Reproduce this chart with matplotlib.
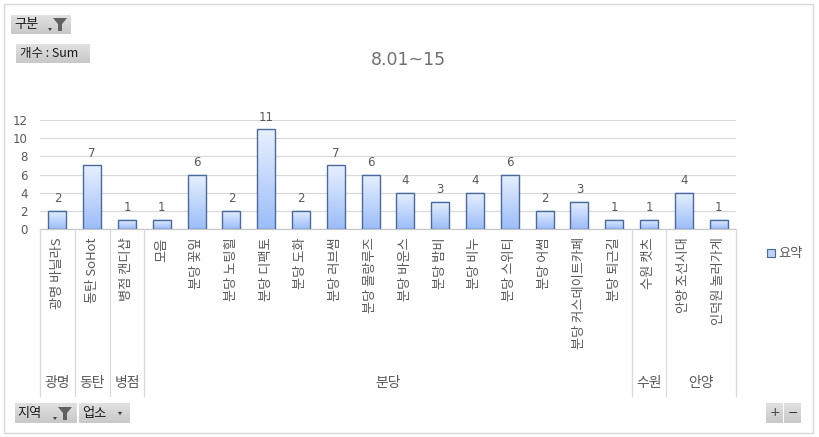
import numpy as np
import matplotlib
matplotlib.use("Agg")
import matplotlib.pyplot as plt
import matplotlib.transforms as mtransforms
from matplotlib.patches import Rectangle, Polygon, Patch
from matplotlib.lines import Line2D

plt.rcParams['font.family'] = ['Noto Sans CJK KR', 'DejaVu Sans']

# ---------------- data ----------------
title = "8.01~15"
regions = ["광명", "동탄", "병점", "분당", "수원", "안양"]
region_sizes = [1, 1, 1, 14, 1, 2]
shops = ["광명 바닐라S", "동탄 SoHot", "병점 캔디샵", "모음", "분당 꽃잎", "분당 노팅힐",
         "분당 디팩토", "분당 도화", "분당 러브썸", "분당 몰랑루즈", "분당 바운스",
         "분당 밤비", "분당 비누", "분당 스위티", "분당 어썸", "분당 커스데이트카페",
         "분당 퇴근길", "수원 캣츠", "안양 조선시대", "인덕원 놀러가게"]
counts = [2, 7, 1, 1, 6, 2, 11, 2, 7, 6, 4, 3, 4, 6, 2, 3, 1, 1, 4, 1]
y_ticks = [0, 2, 4, 6, 8, 10, 12]
series_name = "요약"

# ---------------- layout helpers ----------------
W, H = 820, 437
def fx(px): return px / W
def fy(py): return 1 - py / H

fig = plt.figure(figsize=(W / 100, H / 100), dpi=100)
fig.patch.set_facecolor("white")

ax_l, ax_r, ax_t, ax_b = 40, 736, 120, 229
ax = fig.add_axes([fx(ax_l), fy(ax_b), fx(ax_r) - fx(ax_l), fy(ax_t) - fy(ax_b)])
ax.set_facecolor("none")

TXT = "#595959"
GRID = "#d9d9d9"

x = np.arange(len(shops))
bars = ax.bar(x, counts, width=0.52, facecolor="none", edgecolor="#4a6a9c",
              linewidth=1.0, zorder=4)

# gradient fill per bar
grad = np.linspace(0, 1, 256).reshape(-1, 1)
top_c = np.array([232, 240, 255]) / 255
bot_c = np.array([155, 189, 248]) / 255
img = top_c[None, None, :] * (1 - grad[:, :, None]) + bot_c[None, None, :] * grad[:, :, None]
for b in bars:
    x0, y0, w, h = b.get_x(), b.get_y(), b.get_width(), b.get_height()
    ax.imshow(img, extent=[x0, x0 + w, y0, y0 + h], origin="upper",
              aspect="auto", zorder=3, interpolation="bilinear")

ax.set_xlim(-0.5, len(shops) - 0.5)
ax.set_ylim(0, 12)
ax.set_yticks(y_ticks)
ax.set_yticklabels([str(v) for v in y_ticks], fontsize=8.5, color=TXT,
                   family=['DejaVu Sans'])
ax.tick_params(axis="y", length=0, pad=9)
ax.yaxis.grid(True, color=GRID, linewidth=0.9)
ax.set_axisbelow(True)
for s in ["top", "right", "left"]:
    ax.spines[s].set_visible(False)
ax.spines["bottom"].set_color("#c8c8c8")
ax.spines["bottom"].set_linewidth(0.9)

ax.set_xticks(x)
ax.set_xticklabels(shops, rotation=90, fontsize=9.5, color=TXT)
ax.tick_params(axis="x", length=0, pad=6)

# data labels
for b, v in zip(bars, counts):
    ax.annotate(str(v), (b.get_x() + b.get_width() / 2, b.get_height()),
                xytext=(0, 4), textcoords="offset points", ha="center", va="bottom",
                fontsize=8.5, color=TXT, family=['DejaVu Sans'])

# group separators and labels
blend = mtransforms.blended_transform_factory(ax.transData, fig.transFigure)
edges = np.concatenate([[0], np.cumsum(region_sizes)]) - 0.5
for e in edges:
    fig.add_artist(Line2D([e, e], [fy(229), fy(396)], transform=blend,
                          color=GRID, linewidth=0.9))
for name, a, b2 in zip(regions, edges[:-1], edges[1:]):
    fig.text((a + b2) / 2, fy(383), name, transform=blend, ha="center", va="center",
             fontsize=10, color=TXT)

# title
fig.text(fx(408), fy(60), title, ha="center", va="center", fontsize=12.5,
         color="#707070", family=['DejaVu Sans'])

# legend
fig.legend(handles=[Patch(facecolor="#bcd2f7", edgecolor="#4a6a9c", linewidth=0.8)],
           labels=[series_name], loc="center left",
           bbox_to_anchor=(fx(755), fy(254)), frameon=False, fontsize=9.5,
           handlelength=0.6, handleheight=0.6, handletextpad=0.3, labelcolor=TXT)

# outer border
fig.add_artist(Rectangle((fx(4), fy(433)), fx(813) - fx(4), fy(4) - fy(433),
                         transform=fig.transFigure, fill=False, edgecolor="#d9d9d9",
                         linewidth=1.0))

# pivot buttons
bgrad = np.linspace(0, 1, 64).reshape(-1, 1)
btop = np.array([225, 225, 225]) / 255
bbot = np.array([200, 200, 200]) / 255
bimg = btop[None, None, :] * (1 - bgrad[:, :, None]) + bbot[None, None, :] * bgrad[:, :, None]

def button(x0, y0, x1, y1):
    bax = fig.add_axes([fx(x0), fy(y1), fx(x1) - fx(x0), fy(y0) - fy(y1)])
    bax.imshow(bimg, aspect="auto", extent=[0, 1, 0, 1], origin="upper")
    bax.set_xlim(0, 1); bax.set_ylim(0, 1)
    bax.axis("off")
    return bax

def funnel(cx, cy):
    pts = [(cx - 7, cy - 6), (cx + 7, cy - 6), (cx + 2, cy), (cx + 2, cy + 7),
           (cx - 2, cy + 7), (cx - 2, cy)]
    fig.add_artist(Polygon([(fx(px), fy(py)) for px, py in pts], closed=True,
                           transform=fig.transFigure, facecolor="#606060",
                           edgecolor="none"))

def small_arrow(cx, cy, s=2.5):
    pts = [(cx - s, cy - s / 2), (cx + s, cy - s / 2), (cx, cy + s)]
    fig.add_artist(Polygon([(fx(px), fy(py)) for px, py in pts], closed=True,
                           transform=fig.transFigure, facecolor="#404040",
                           edgecolor="none"))

BTXT = "#1a1a1a"
button(11, 15, 71, 34)
fig.text(fx(14), fy(24.5), "구분", ha="left", va="center", fontsize=9.5, color=BTXT)
small_arrow(50, 29, 2)
funnel(60, 24)

button(16, 44, 90, 63)
fig.text(fx(20), fy(53.5), "개수 : Sum", ha="left", va="center", fontsize=9, color=BTXT)

button(15, 403, 77, 423)
fig.text(fx(17), fy(413), "지역", ha="left", va="center", fontsize=9.5, color=BTXT)
small_arrow(55, 418, 2)
funnel(65, 413)

button(79, 403, 130, 423)
fig.text(fx(82), fy(413), "업소", ha="left", va="center", fontsize=9.5, color=BTXT)
small_arrow(120, 413, 2.2)

button(766, 403, 783, 423)
fig.text(fx(774.5), fy(413), "+", ha="center", va="center", fontsize=9, color="#404040",
         family=['DejaVu Sans'])
button(784, 403, 801, 423)
fig.text(fx(792.5), fy(413), "−", ha="center", va="center", fontsize=9, color="#404040",
         family=['DejaVu Sans'])

fig.savefig("out.png", dpi=100)
